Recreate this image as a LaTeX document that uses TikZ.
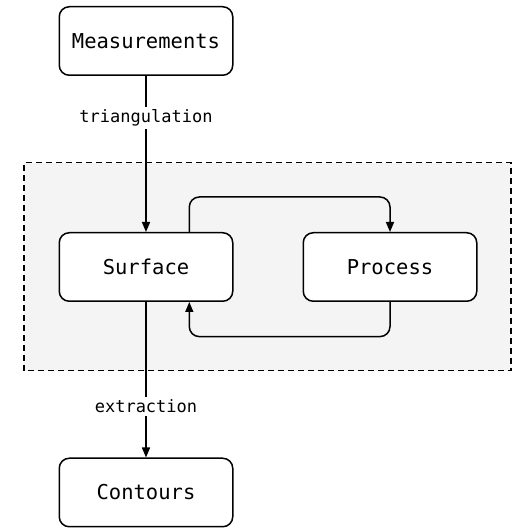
\documentclass[tikz,border=0pt]{standalone}
\usepackage{fontspec}
\setmonofont{DejaVu Sans Mono}
\usepackage{tikz}
\usetikzlibrary{arrows.meta}
\definecolor{panelgray}{HTML}{F4F4F4}

\begin{document}
\begin{tikzpicture}[x=1pt,y=1pt,
    stage/.style={draw,line width=1.5pt,rounded corners=10pt,fill=white,
      minimum width=173.5pt,minimum height=68.5pt,
      font=\ttfamily\fontsize{20.5}{24}\selectfont},
    flow/.style={line width=1.5pt,-{Triangle[length=10pt,width=8pt]}},
    steplabel/.style={fill=white,inner sep=3pt,
      font=\ttfamily\fontsize{17}{20}\selectfont}]
      \useasboundingbox (0,0) rectangle (515,528);
      % dashed panel round the loop
      \draw[line width=1.4pt,dash pattern=on 6pt off 4pt,fill=panelgray]
        (24,157.3) rectangle (511,365.3);
      \node[stage] (meas) at (146,487) {Measurements};
      \node[stage] (surf) at (146,261) {Surface};
      \node[stage] (proc) at (390,261) {Process};
      \node[stage] (cont) at (146,35.5) {Contours};
      \draw[flow] (meas) -- node[steplabel,pos=0.27] {triangulation} (surf);
      \draw[flow] (surf) -- node[steplabel,pos=0.67] {extraction} (cont);
      \draw[flow,rounded corners=10pt]
        ([xshift=43.3pt]surf.north) -- ++(0,35) -| (proc.north);
      \draw[flow,rounded corners=10pt]
        (proc.south) -- ++(0,-34.6) -| ([xshift=43.3pt]surf.south);
    \end{tikzpicture}
\end{document}
